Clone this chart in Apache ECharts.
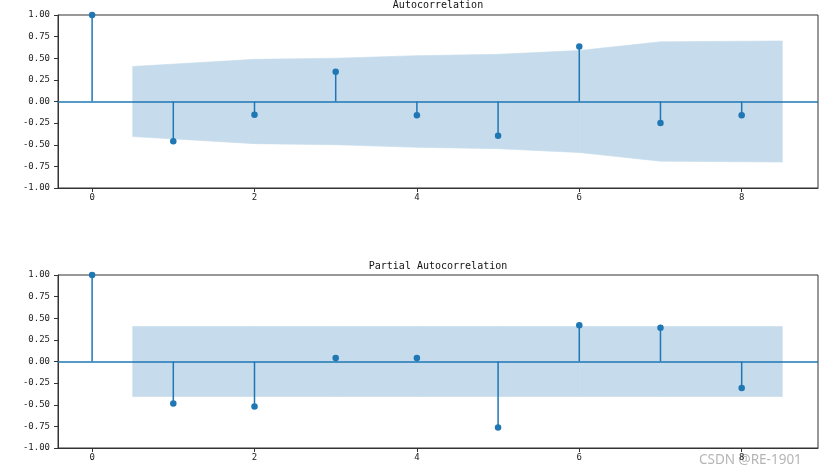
<!DOCTYPE html>
<html><head><meta charset="utf-8">
<script src="https://cdn.jsdelivr.net/npm/echarts@6/dist/echarts.min.js"></script>
<style>html,body{margin:0;padding:0;background:#fff}#c{width:826px;height:476px}</style>
</head><body><div id="c"></div>
<script>
const lags = [0, 1, 2, 3, 4, 5, 6, 7, 8];
const acfValues = [1, -0.46, -0.153, 0.345, -0.16, -0.395, 0.637, -0.249, -0.16];
const pacfValues = [1, -0.485, -0.52, 0.04, 0.04, -0.763, 0.42, 0.39, -0.307];
const bandX = [0.5, 2, 3, 4, 5, 6, 7, 8.5];
const acfConf = [0.405, 0.487, 0.50, 0.53, 0.545, 0.59, 0.69, 0.70];
const pacfConf = [0.405, 0.405, 0.405, 0.405, 0.405, 0.405, 0.405, 0.405];
const xTicks = [0, 2, 4, 6, 8];
const titles = ['Autocorrelation', 'Partial Autocorrelation'];
const watermark = 'CSDN @RE-1901';

const BLUE = '#1f77b4';
const BAND = '#c6dbeb';
const MONO = 'DejaVu Sans Mono';
const grids = [
  {left: 58, right: 8, top: 15, height: 173},
  {left: 58, right: 8, top: 275, height: 173}
];
const panels = [
  {vals: acfValues, conf: acfConf},
  {vals: pacfValues, conf: pacfConf}
];

const xAxes = grids.map((g, i) => ({
  type: 'value', gridIndex: i, min: -0.42, max: 8.94,
  axisLine: {show: true, onZero: false, lineStyle: {color: '#333', width: 1}},
  axisTick: {show: true, length: 4, customValues: xTicks, lineStyle: {color: '#333'}},
  axisLabel: {customValues: xTicks, color: '#222', fontFamily: MONO, fontSize: 9, margin: 5,
    formatter: v => String(v)},
  splitLine: {show: false}
}));
const yAxes = grids.map((g, i) => ({
  type: 'value', gridIndex: i, min: -1, max: 1, interval: 0.25,
  axisLine: {show: true, onZero: false, lineStyle: {color: '#333', width: 1}},
  axisTick: {show: true, length: 4, lineStyle: {color: '#333'}},
  axisLabel: {color: '#222', fontFamily: MONO, fontSize: 9, margin: 8,
    formatter: v => v.toFixed(2)},
  splitLine: {show: false}
}));

const series = [];
panels.forEach((p, i) => {
  const segs = [];
  for (let k = 0; k < bandX.length - 1; k++) {
    segs.push([bandX[k], p.conf[k], bandX[k + 1], p.conf[k + 1]]);
  }
  series.push({
    type: 'custom', xAxisIndex: i, yAxisIndex: i, z: 1, silent: true,
    data: segs,
    renderItem: (params, api) => {
      const x0 = api.value(0), c0 = api.value(1), x1 = api.value(2), c1 = api.value(3);
      const pts = [api.coord([x0, c0]), api.coord([x1, c1]), api.coord([x1, -c1]), api.coord([x0, -c0])];
      return {type: 'polygon', shape: {points: pts},
        style: {fill: BAND, stroke: BAND, lineWidth: 0.6}};
    },
    markLine: {silent: true, symbol: 'none', label: {show: false},
      lineStyle: {color: BLUE, width: 1.5, type: 'solid'}, data: [{yAxis: 0}]}
  });
  series.push({
    type: 'custom', xAxisIndex: i, yAxisIndex: i, z: 3,
    data: lags.map((l, k) => [l, p.vals[k]]),
    renderItem: (params, api) => {
      const a = api.coord([api.value(0), 0]);
      const b = api.coord([api.value(0), api.value(1)]);
      return {type: 'line', shape: {x1: a[0], y1: a[1], x2: b[0], y2: b[1]},
        style: {stroke: BLUE, lineWidth: 1.5}};
    }
  });
  series.push({
    type: 'scatter', xAxisIndex: i, yAxisIndex: i, z: 4,
    data: lags.map((l, k) => [l, p.vals[k]]), symbol: 'circle', symbolSize: 6.5,
    itemStyle: {color: BLUE, opacity: 1}
  });
});

const chart = echarts.init(document.getElementById('c'), null, {renderer: 'canvas'});
chart.setOption({
  animation: false,
  backgroundColor: '#fff',
  title: titles.map((t, i) => ({
    text: t, left: 438, textAlign: 'center', top: i === 0 ? 0 : 261, padding: 0,
    textStyle: {fontFamily: MONO, fontSize: 10, fontWeight: 'normal', color: '#111'}
  })),
  grid: grids.map(g => Object.assign({show: true, borderColor: '#333', borderWidth: 1, backgroundColor: 'transparent'}, g)),
  xAxis: xAxes,
  yAxis: yAxes,
  series: series,
  graphic: [{type: 'text', left: 699, top: 453, silent: true,
    style: {text: watermark, fontFamily: 'Noto Sans', fontSize: 13.5, fill: '#b5b5b5'}}]
});
</script></body></html>
